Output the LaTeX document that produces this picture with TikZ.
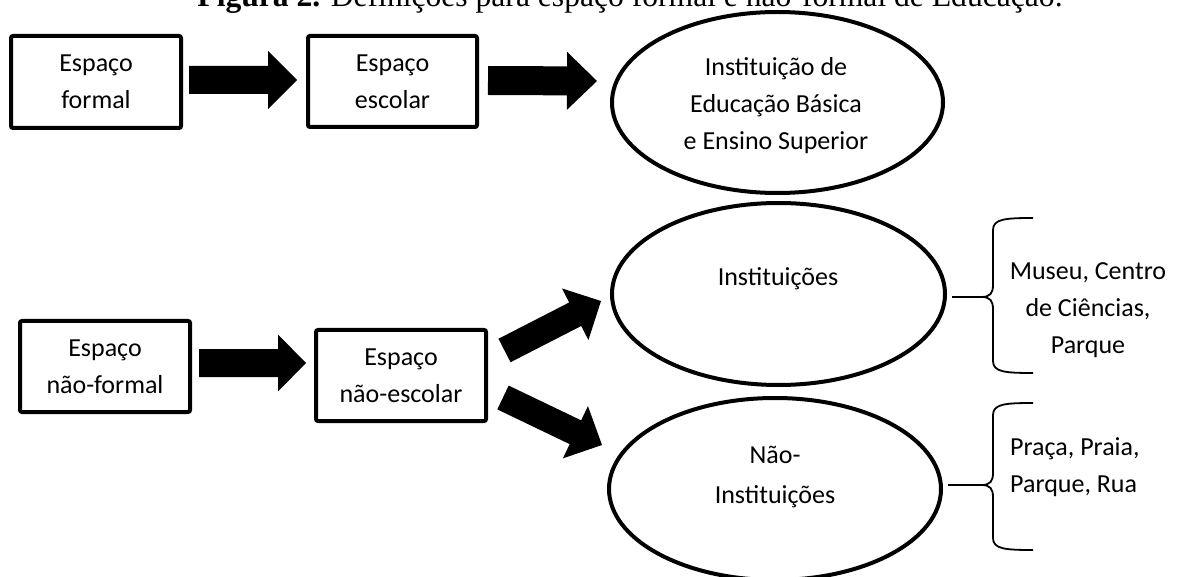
\documentclass[tikz,border=0pt]{standalone}
\usepackage{fontspec}
\setmainfont{Carlito}
\newfontfamily\titlefont{Liberation Serif}
\usetikzlibrary{calc,shapes.geometric}

% block arrow: tail, tip, body half-width, head half-width, head length
\newcommand{\blkarrow}[5]{%
  \coordinate (ba-n) at ($(#2)!#5!(#1)$);
  \fill[black] ($(#1)!#3!90:(#2)$) -- ($(ba-n)!#3!90:(#2)$) -- ($(ba-n)!#4!90:(#2)$) -- (#2)
    -- ($(ba-n)!#4!-90:(#2)$) -- ($(ba-n)!#3!-90:(#2)$) -- ($(#1)!#3!-90:(#2)$) -- cycle;}

\tikzset{
  txt/.style={align=center, inner sep=0pt, font=\fontsize{26}{37}\selectfont},
  box/.style={txt, draw, line width=4pt, rounded corners=2pt, minimum width=170pt, minimum height=92pt},
  ell/.style={draw, ellipse, line width=4pt, inner sep=0pt},
  thinline/.style={line width=1.8pt},
}

\begin{document}
\begin{tikzpicture}[x=1pt,y=-1pt]
\useasboundingbox (0,0) rectangle (1178,577);
\clip (0,0) rectangle (1178,577);

% title (partly cut off at the top, as in the reference)
\node[anchor=base, inner sep=0pt, font=\titlefont\fontsize{31.6}{38}\selectfont] (title) at (630,7)
  {\textbf{Figura 2.} Definições para espaço formal e não-formal de Educação.};

% boxes
\node[box] (b1) at (96,82) {Espaço\\formal};
\node[box, minimum width=169pt, minimum height=91pt] (b2) at (392.5,81.5) {Espaço\\escolar};
\node[box, minimum height=91pt] (b3) at (105,366.5) {Espaço\\não-formal};
\node[box, minimum height=91pt] (b4) at (401,375.5) {Espaço\\não-escolar};

% ellipses
\node[ell, minimum width=331pt, minimum height=181pt] (e1) at (777.5,102.5) {};
\node[txt] (e1t) at (776,106) {Instituição de\\Educação Básica\\e Ensino Superior};
\node[ell, minimum width=333pt, minimum height=182pt] (e2) at (778.5,294) {};
\node[txt] (e2t) at (778,279) {Instituições};
\node[ell, minimum width=332pt, minimum height=182pt] (e3) at (775,489) {};
\node[txt, font=\fontsize{26}{40}\selectfont] (e3t) at (775,477) {Não-\\Instituições};

% block arrows
\coordinate (a1t) at (189,80);   \coordinate (a1h) at (297,80);
\coordinate (a2t) at (488,80.5); \coordinate (a2h) at (597,81);
\coordinate (a3t) at (199,363);  \coordinate (a3h) at (306,363);
\coordinate (a4t) at (504.5,350.5); \coordinate (a4h) at (601,301);
\coordinate (a5t) at (503,397.5);   \coordinate (a5h) at (602,445);
\blkarrow{a1t}{a1h}{14pt}{29pt}{29pt}
\blkarrow{a2t}{a2h}{14.5pt}{29pt}{30pt}
\blkarrow{a3t}{a3h}{14pt}{28.5pt}{28pt}
\blkarrow{a4t}{a4h}{13.2pt}{29pt}{29pt}
\blkarrow{a5t}{a5h}{13.2pt}{29pt}{29.5pt}

% braces
\coordinate (br1) at (982,297);
\coordinate (br2) at (982,485);
\draw[thinline] ($(e2.east)+(5,3)$) -- (br1);
\draw[thinline] ($(e3.east)+(5,-4)$) -- (br2);
\draw[thinline] (1033,218) .. controls (1005,218) and (993,219) .. (993,230) -- (993,285)
  .. controls (993,293) and (990,297) .. (br1)
  .. controls (990,297) and (993,301) .. (993,309) -- (993,361)
  .. controls (993,372) and (1005,373) .. (1033,373);
\draw[thinline] (1033,403) .. controls (1005,403) and (993,404) .. (993,415) -- (993,473)
  .. controls (993,481) and (990,485) .. (br2)
  .. controls (990,485) and (993,489) .. (993,497) -- (993,538)
  .. controls (993,549) and (1005,550) .. (1033,550);

% brace labels
\node[txt] (l1) at (1088,310) {Museu, Centro\\de Ciências,\\Parque};
\node[txt, align=left, anchor=west] (l2) at (1010,467.5) {Praça, Praia,\\Parque, Rua};
\end{tikzpicture}
\end{document}
